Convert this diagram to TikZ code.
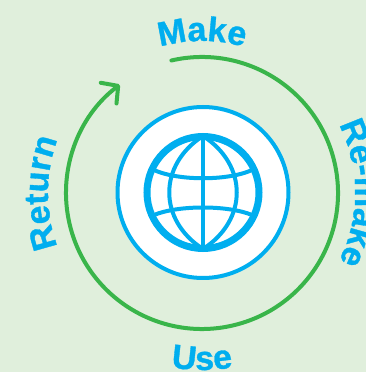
\documentclass[tikz,border=0pt]{standalone}
\usepackage{fontspec}
\setmainfont{Liberation Sans}[BoldFeatures={FakeBold=1}]
\usetikzlibrary{arrows.meta,decorations.text}
\definecolor{paleback}{HTML}{E0EFDC}
\definecolor{loopgreen}{HTML}{39B54A}
\definecolor{globeblue}{HTML}{00AEEF}
\newcommand{\stagefont}{\fontsize{34}{34}\selectfont\bfseries\color{globeblue}}
\tikzset{
	x=1pt,y=1pt,
	loopline/.style={loopgreen,line width=4pt,line cap=round},
	globeline/.style={globeblue,line width=4pt},
	stagetext/.style={decorate,decoration={text along path,text align=center,text={|\stagefont|#1}}}
}
\begin{document}
\begin{tikzpicture}
		% Fond
		\useasboundingbox (0,0) rectangle (366,372);
		\clip (0,0) rectangle (366,372);
		\fill [paleback] (0,0) rectangle (366,372);
		\coordinate (centre) at (202,179);
		\coordinate (globe) at (203,179.5);
		% Boucle
		\draw [loopline,-{Straight Barb[length=12pt,width=26pt,round]}] (centre) ++(103:136) arc [start angle=103,end angle=-232.8,radius=136];
		% Globe
		\draw [globeline,fill=white] (globe) circle [radius=85.5];
		\draw [globeline,line width=7pt] (globe) circle [radius=56];
		\draw [globeline] (203,236) .. controls (158,207) and (158,152) .. (203,123);
		\draw [globeline] (203,236) .. controls (248,207) and (248,152) .. (203,123);
		\draw [globeline] (203,236) -- (203,123);
		\draw [globeline] (154,202) .. controls (178,191) and (228,191) .. (252,202);
		\draw [globeline] (154,157) .. controls (178,167) and (228,167) .. (252,157);
		% Etapes
		\path [stagetext=Make] (centre) ++(150:152) arc [start angle=150,end angle=30,radius=152];
		\path [stagetext=Re-make] (centre) ++(60:153) arc [start angle=60,end angle=-60,radius=153];
		\path [stagetext=Return] (centre) ++(240:154) arc [start angle=240,end angle=120,radius=154];
		\path [stagetext=Use] (centre) ++(240:177) arc [start angle=240,end angle=300,radius=177];
		\end{tikzpicture}
\end{document}
